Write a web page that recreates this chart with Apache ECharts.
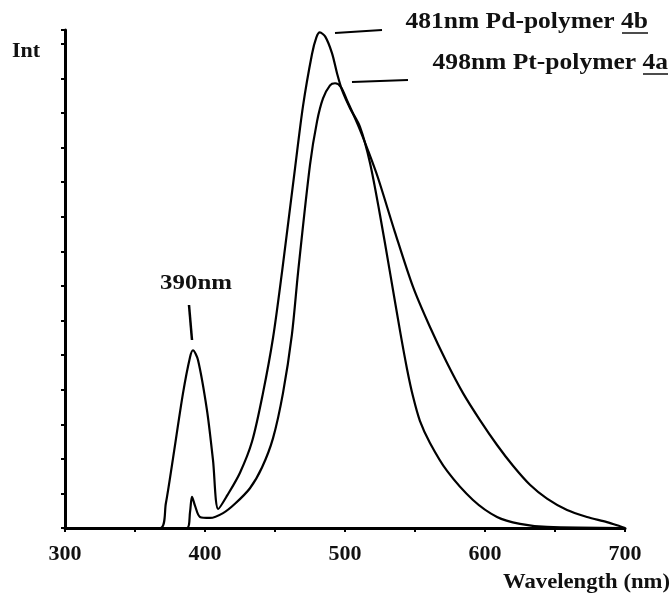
<!DOCTYPE html>
<html>
<head>
<meta charset="utf-8">
<script src="https://cdn.jsdelivr.net/npm/echarts@6/dist/echarts.min.js"></script>
<style>
  html, body { margin: 0; padding: 0; background: #fff; }
  #chart { width: 672px; height: 594px; }
</style>
</head>
<body>
<div id="chart"></div>
<script>
// Wavelength (nm) tick labels
const xTicks = [300, 400, 500, 600, 700];

// Pd-polymer 4b (peak 481 nm, plus 390 nm band)
const pdWave = [300, 368, 372, 377.1, 384.3, 389.3, 391.4, 395.0, 401.4, 405.7, 409.5, 416.0, 425.0, 433.6, 441.4, 448.6, 455.0, 464.3, 470.0, 476.4, 479.5, 482.0, 486.0, 490.7, 494.3, 497.9, 503.6, 510.7, 517.9, 525.0, 532.1, 539.3, 544.3, 548.6, 553.5, 560.7, 572.9, 591.4, 608.6, 625.0, 644.3, 700];
const pdInt  = [0, 0, 0.7, 2.0, 3.9, 4.94, 5.14, 4.86, 3.41, 1.97, 0.55, 0.95, 1.6, 2.5, 3.9, 5.5, 7.4, 10.4, 12.2, 13.7, 14.18, 14.33, 14.2, 13.73, 13.15, 12.66, 12.14, 11.6, 10.55, 9.05, 7.40, 5.7, 4.6, 3.8, 3.1, 2.46, 1.65, 0.81, 0.32, 0.12, 0.03, 0];

// Pt-polymer 4a (peak 498 nm)
const ptWave = [300, 387.1, 389.3, 390.7, 392.9, 396.4, 403.6, 412.9, 421.4, 432.1, 440.7, 448.6, 455.7, 462.1, 466.5, 475.0, 480.0, 484.3, 489.3, 492.9, 497.1, 501.4, 509.3, 516.4, 523.6, 535.7, 548.6, 560.7, 572.9, 584.3, 596.4, 608.6, 620.0, 632.1, 644.3, 658.6, 672.9, 687.1, 696.4, 700];
const ptInt  = [0, 0, 0.46, 0.90, 0.64, 0.32, 0.29, 0.43, 0.7, 1.15, 1.75, 2.6, 3.9, 5.6, 7.4, 10.5, 11.75, 12.42, 12.8, 12.86, 12.75, 12.37, 11.65, 10.92, 10.12, 8.55, 6.97, 5.81, 4.77, 3.90, 3.12, 2.40, 1.80, 1.25, 0.85, 0.52, 0.32, 0.17, 0.05, 0];

const pdData = pdWave.map((w, i) => [w, pdInt[i]]);
const ptData = ptWave.map((w, i) => [w, ptInt[i]]);

const FONT = '"Liberation Serif", "Times New Roman", serif';
const chart = echarts.init(document.getElementById('chart'), null, { renderer: 'canvas' });

const option = {
  backgroundColor: '#ffffff',
  animation: false,
  grid: { left: 65, top: 30, width: 560, height: 498 },
  xAxis: {
    type: 'value', min: 300, max: 700, interval: 50,
    axisLine: { show: true, lineStyle: { color: '#000', width: 3 } },
    axisTick: { show: true, length: 4, lineStyle: { color: '#000', width: 2 } },
    axisLabel: {
      margin: 15, color: '#111', fontFamily: FONT, fontWeight: 'bold', fontSize: 22,
      formatter: v => (xTicks.indexOf(v) >= 0 ? String(v) : '')
    },
    splitLine: { show: false }
  },
  yAxis: {
    type: 'value', min: 0, max: 14.4, interval: 1,
    axisLine: { show: true, lineStyle: { color: '#000', width: 3 } },
    axisTick: { show: true, length: 4, lineStyle: { color: '#000', width: 2 } },
    axisLabel: { show: false },
    splitLine: { show: false }
  },
  series: [
    { name: 'Pd-polymer 4b', type: 'line', data: pdData, showSymbol: false, smooth: 0.3,
      lineStyle: { color: '#000', width: 2.2 } },
    { name: 'Pt-polymer 4a', type: 'line', data: ptData, showSymbol: false, smooth: 0.3,
      lineStyle: { color: '#000', width: 2.2 } }
  ],
  graphic: [
    { type: 'text', left: 12, top: 40, style: { text: 'Int', font: 'bold 22px ' + FONT, fill: '#111' } },
    { type: 'text', x: 670, y: 583, scaleX: 1.08, style: { text: 'Wavelength (nm)', font: 'bold 21px ' + FONT, fill: '#111', textAlign: 'right', textVerticalAlign: 'middle' } },
    { type: 'text', x: 648, y: 22, scaleX: 1.11, style: { text: '481nm Pd-polymer 4b', font: 'bold 23px ' + FONT, fill: '#111', textAlign: 'right', textVerticalAlign: 'middle' } },
    { type: 'line', shape: { x1: 622, y1: 33, x2: 648, y2: 33 }, style: { stroke: '#111', lineWidth: 1.5 } },
    { type: 'text', x: 668, y: 63, scaleX: 1.11, style: { text: '498nm Pt-polymer 4a', font: 'bold 23px ' + FONT, fill: '#111', textAlign: 'right', textVerticalAlign: 'middle' } },
    { type: 'line', shape: { x1: 643, y1: 74, x2: 668, y2: 74 }, style: { stroke: '#111', lineWidth: 1.5 } },
    { type: 'text', x: 196, y: 283, scaleX: 1.13, style: { text: '390nm', font: 'bold 22px ' + FONT, fill: '#111', textAlign: 'center', textVerticalAlign: 'middle' } },
    { type: 'line', shape: { x1: 189, y1: 305, x2: 192, y2: 340 }, style: { stroke: '#000', lineWidth: 2.5 } },
    { type: 'line', shape: { x1: 335, y1: 33, x2: 382, y2: 30 }, style: { stroke: '#000', lineWidth: 2 } },
    { type: 'line', shape: { x1: 352, y1: 82, x2: 408, y2: 80 }, style: { stroke: '#000', lineWidth: 2 } }
  ]
};
chart.setOption(option);
</script>
</body>
</html>
